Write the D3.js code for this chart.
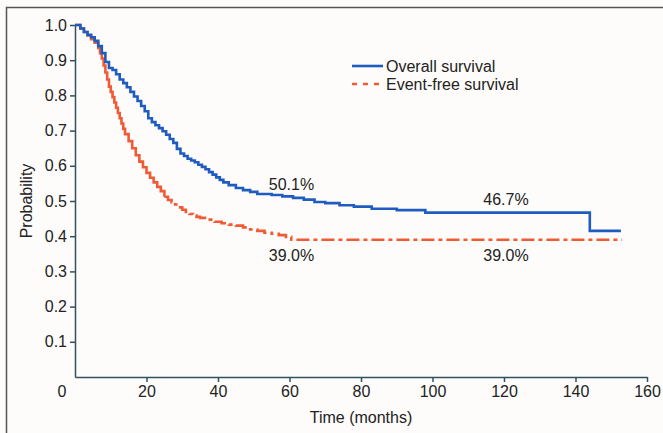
<!DOCTYPE html>
<html>
<head>
<meta charset="utf-8">
<script src="https://cdn.jsdelivr.net/npm/d3@7"></script>
<style>
  body { margin: 0; background: #fff; }
  svg { display: block; font-family: "Liberation Sans", Arial, Helvetica, sans-serif; }
</style>
</head>
<body>
<div id="chart"></div>
<script>
// Kaplan-Meier step values
const osTime = [0, 1.5, 2.5, 3.5, 4.5, 5.5, 6.5, 7.5, 8.5, 9.5, 10.5, 11.5, 12.5, 13.5, 14.5, 15.5, 16.5, 17.5, 18.5, 19.5,
    20.5, 21.5, 22.5, 23.5, 24.5, 25.5, 26.5, 27.5, 28.5, 29.5, 30.5, 31.5, 32.5, 33.5, 34.5, 35.5, 36.5, 37.5, 38.5, 39.5,
    40.5, 41.5, 43, 45, 47, 49, 51, 55, 58, 61, 64, 67, 70, 74, 78, 83, 90, 98, 144, 152.7];
const osSurv = [1.0, 0.99, 0.98, 0.972, 0.965, 0.955, 0.94, 0.92, 0.895, 0.878, 0.872, 0.86, 0.845, 0.835, 0.823, 0.81, 0.797, 0.784, 0.77, 0.755,
    0.735, 0.724, 0.715, 0.707, 0.698, 0.688, 0.676, 0.665, 0.648, 0.635, 0.628, 0.62, 0.615, 0.61, 0.603, 0.597, 0.59, 0.582, 0.575, 0.567,
    0.56, 0.553, 0.545, 0.537, 0.531, 0.526, 0.52, 0.517, 0.513, 0.509, 0.504, 0.497, 0.494, 0.488, 0.484, 0.478, 0.474, 0.467, 0.415, 0.415];

const efsTime = [0, 1.5, 2.5, 3.5, 4.5, 5.5, 6.5, 7, 7.5, 8, 8.5, 9, 9.5, 10, 10.5, 11, 11.5, 12, 12.5, 13, 13.5, 14,
    15, 16, 17, 18, 19, 20, 21, 22, 23, 24, 25, 26, 27, 28, 29, 30, 31, 32, 33, 34, 35, 37, 39, 41, 43, 45, 47, 49,
    51, 53, 55, 57, 59, 60.5, 153];
const efsSurv = [1.0, 0.99, 0.98, 0.97, 0.96, 0.95, 0.935, 0.92, 0.905, 0.885, 0.865, 0.845, 0.825, 0.81, 0.795, 0.78, 0.765, 0.75, 0.735, 0.72, 0.705, 0.69,
    0.67, 0.65, 0.63, 0.612, 0.596, 0.58, 0.566, 0.553, 0.54, 0.528, 0.512, 0.503, 0.496, 0.49, 0.482, 0.475, 0.469, 0.463, 0.459, 0.455, 0.452, 0.447, 0.441, 0.437,
    0.433, 0.43, 0.425, 0.419, 0.415, 0.41, 0.407, 0.403, 0.398, 0.39, 0.39];

const yTicks = [0.1, 0.2, 0.3, 0.4, 0.5, 0.6, 0.7, 0.8, 0.9, 1.0];
const xTicks = [20, 40, 60, 80, 100, 120, 140, 160];
const seriesNames = ["Overall survival", "Event-free survival"];
// annotations: [time, probability, text, position]
const notes = [
    [60, 0.509, "50.1%", "above"],
    [120, 0.467, "46.7%", "above"],
    [60, 0.39, "39.0%", "below"],
    [120, 0.39, "39.0%", "below"]
];

const width = 663, height = 433;
const blue = "#1f5cc0", red = "#f05a35", ink = "#222", axisCol = "#33505e";
const fontSize = "16px";

const svg = d3.select("#chart").append("svg")
    .attr("width", width)
    .attr("height", height);

svg.append("rect").attr("width", width).attr("height", height).attr("fill", "#fdfcfa");

// frame (only top and left edges show in the crop)
svg.append("path")
    .attr("d", `M6.5,${height}V7.5H${width}`)
    .attr("fill", "none")
    .attr("stroke", "#555")
    .attr("stroke-width", 1.5);

const x = d3.scaleLinear().domain([0, 160]).range([75, 647]);
const y = d3.scaleLinear().domain([0, 1]).range([377, 25]);

const yAxis = svg.append("g")
    .attr("transform", `translate(${x(0)},0)`)
    .call(d3.axisLeft(y).tickValues(yTicks).tickFormat(d3.format(".1f")).tickSize(5).tickSizeOuter(0).tickPadding(3));

const xAxis = svg.append("g")
    .attr("transform", `translate(0,${y(0)})`)
    .call(d3.axisBottom(x).tickValues(xTicks).tickSize(5).tickSizeOuter(0).tickPadding(4));

[xAxis, yAxis].forEach(g => {
    g.select(".domain").attr("stroke", axisCol).attr("stroke-width", 1.5);
    g.selectAll(".tick line").attr("stroke", axisCol).attr("stroke-width", 1.5);
    g.selectAll(".tick text").attr("fill", ink).style("font-size", fontSize);
});

// the lone "0" sits at the corner
svg.append("text")
    .attr("x", x(0) - 13)
    .attr("y", y(0) + 20)
    .attr("text-anchor", "middle")
    .attr("fill", ink)
    .style("font-size", fontSize)
    .text("0");

svg.append("text")
    .attr("x", 361)
    .attr("y", 423)
    .attr("text-anchor", "middle")
    .attr("fill", ink)
    .style("font-size", fontSize)
    .text("Time (months)");

svg.append("text")
    .attr("transform", `translate(32,${y(0.5)}) rotate(-90)`)
    .attr("text-anchor", "middle")
    .attr("fill", ink)
    .style("font-size", fontSize)
    .text("Probability");

const line = d3.line()
    .x(d => x(d[0]))
    .y(d => y(d[1]))
    .curve(d3.curveStepAfter);

const osData = osTime.map((t, i) => [t, osSurv[i]]);
const efsData = efsTime.map((t, i) => [t, efsSurv[i]]);

// early steep part of event-free curve reads as solid, the tail as dashes
const efsHead = efsData.filter(d => d[0] <= 25);
const efsTail = efsData.filter(d => d[0] >= 25);

svg.append("path")
    .datum(efsHead)
    .attr("d", line)
    .attr("fill", "none")
    .attr("stroke", red)
    .attr("stroke-width", 2.6);

svg.append("path")
    .datum(efsTail)
    .attr("d", line)
    .attr("fill", "none")
    .attr("stroke", red)
    .attr("stroke-width", 2.6)
    .attr("stroke-dasharray", "13,4,4,4");

svg.append("path")
    .datum(osData)
    .attr("d", line)
    .attr("fill", "none")
    .attr("stroke", blue)
    .attr("stroke-width", 2.6);

svg.selectAll(".note")
    .data(notes)
    .join("text")
    .attr("class", "note")
    .attr("x", d => x(d[0]) + 2)
    .attr("y", d => d[3] === "above" ? y(d[1]) - 8 : y(d[1]) + 21)
    .attr("text-anchor", "middle")
    .attr("fill", ink)
    .style("font-size", fontSize)
    .text(d => d[2]);

// legend
const legend = svg.append("g").attr("transform", "translate(352,66)");
legend.selectAll("line")
    .data(seriesNames)
    .join("line")
    .attr("x1", 0).attr("x2", 31)
    .attr("y1", (d, i) => i * 18).attr("y2", (d, i) => i * 18)
    .attr("stroke", (d, i) => i === 0 ? blue : red)
    .attr("stroke-width", 2.6)
    .attr("stroke-dasharray", (d, i) => i === 0 ? null : "5,6");
legend.selectAll("text")
    .data(seriesNames)
    .join("text")
    .attr("x", 34)
    .attr("y", (d, i) => i * 18)
    .attr("dy", "0.35em")
    .attr("fill", ink)
    .style("font-size", fontSize)
    .text(d => d);
</script>
</body>
</html>
